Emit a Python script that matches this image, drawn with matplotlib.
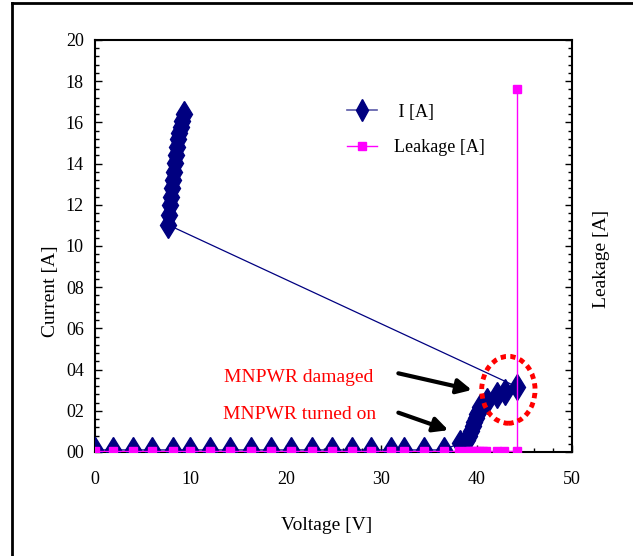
import matplotlib
matplotlib.use("Agg")
from matplotlib import pyplot as plt
from matplotlib.patches import Ellipse
from matplotlib.lines import Line2D
from matplotlib.ticker import MultipleLocator, FuncFormatter

# current I [A] vs voltage
i_v = [0, 1.9, 3.95, 5.95, 8.15, 10.0, 12.1, 14.2, 16.3, 18.4, 20.5, 22.7,
       24.8, 26.9, 28.9, 31.0, 32.4, 34.5, 36.6, 38.3,
       39.0, 39.2, 39.4, 39.6, 39.75, 39.9, 40.05, 40.2, 40.4,
       41.1, 42.1, 43.0, 44.2,
       7.69, 7.79, 7.86, 7.97, 8.11, 8.21, 8.32, 8.39, 8.49, 8.63,
       8.74, 8.84, 8.98, 9.12, 9.33]
i_a = [0.1] * 19 + [0.45,
       0.6, 0.8, 1.0, 1.25, 1.45, 1.65, 1.85, 2.0, 2.2,
       2.5, 2.77, 2.93, 3.17,
       11.02, 11.5, 11.99, 12.39, 12.8, 13.2, 13.61, 14.01, 14.42, 14.82,
       15.18, 15.5, 15.79, 16.08, 16.41]

# leakage [A] vs voltage
leak_v = [0, 1.9, 3.95, 5.95, 8.15, 10.0, 12.1, 14.2, 16.3, 18.4, 20.5, 22.7,
          24.8, 26.9, 28.9, 31.0, 32.4, 34.5, 36.6,
          38.2, 39.0, 39.3, 39.7, 40.0, 40.3, 40.7, 41.0, 42.1, 42.9, 44.2, 44.2]
leak_a = [0.05] * 30 + [17.6]

plt.rcParams['font.family'] = ['Liberation Serif', 'DejaVu Serif']

fig = plt.figure(figsize=(6.33, 5.56), dpi=100)
ax = fig.add_axes([95 / 633, 104 / 556, 477 / 633, 412 / 556])

ax.plot(i_v, i_a, color='#000080', lw=0.9, marker='d', markersize=13,
        markerfacecolor='#000080', markeredgecolor='#000080', zorder=3)
ax.plot(leak_v, leak_a, color='#FF00FF', lw=1.0, marker='s', markersize=6,
        markerfacecolor='#FF00FF', markeredgecolor='#FF00FF', zorder=4)

ax.set_xlim(0, 50)
ax.set_ylim(0, 20)
ax.xaxis.set_major_locator(MultipleLocator(10))
ax.xaxis.set_minor_locator(MultipleLocator(2))
ax.yaxis.set_major_locator(MultipleLocator(2))
ax.yaxis.set_minor_locator(MultipleLocator(0.4))
ax.yaxis.set_major_formatter(FuncFormatter(lambda v, p: '%02d' % round(v)))
ax.tick_params(which='both', direction='in', right=True, top=False,
               labelsize=13, width=1)
ax.tick_params(which='major', length=5)
ax.tick_params(which='minor', length=3)
ax.tick_params(axis='x', pad=14)
ax.tick_params(axis='y', pad=8)
for s in ax.spines.values():
    s.set_linewidth(1.5)

fig.text(50 / 633, 1 - 291 / 556, 'Current [A]', rotation=90,
         ha='center', va='center', fontsize=14)
fig.text(601 / 633, 1 - 259 / 556, 'Leakage [A]', rotation=90,
         ha='center', va='center', fontsize=14)
fig.text(327 / 633, 1 - 526 / 556, 'Voltage [V]',
         ha='center', va='center', fontsize=14)

# annotations
ax.text(21.4, 3.64, 'MNPWR damaged', color='red', fontsize=14,
        ha='center', va='center')
ax.text(21.4, 1.80, 'MNPWR turned on', color='red', fontsize=14,
        ha='center', va='center')
arrow = dict(arrowstyle='-|>', lw=3, mutation_scale=22, color='black',
             shrinkA=0, shrinkB=0)
ax.annotate('', xy=(39.5, 3.01), xytext=(31.8, 3.82), arrowprops=arrow)
ax.annotate('', xy=(37.04, 1.06), xytext=(31.8, 1.91), arrowprops=arrow)
ax.add_patch(Ellipse((43.33, 3.02), 5.59, 3.25, fill=False, edgecolor='red',
                     lw=3.5, linestyle=(0, (1.1, 0.9)), zorder=5))

handles = [Line2D([], [], color='#5a5aa8', lw=1.2, marker='d', markersize=11,
                  markerfacecolor='#000080', markeredgecolor='#000080'),
           Line2D([], [], color='#FF00FF', lw=1.0, marker='s', markersize=6,
                  markerfacecolor='#FF00FF', markeredgecolor='#FF00FF')]
ax.legend(handles, [' I [A]', 'Leakage [A]'], loc='center left',
          bbox_to_anchor=(0.528, 0.782), frameon=False, fontsize=13,
          handlelength=1.65, handletextpad=0.95, labelspacing=1.0,
          borderpad=0, borderaxespad=0)

# outer frame lines
fig.add_artist(Line2D([12 / 633, 12 / 633], [0, 1 - 3 / 556], color='black', lw=2))
fig.add_artist(Line2D([12 / 633, 1], [1 - 3 / 556, 1 - 3 / 556], color='black', lw=2))

fig.savefig('out.png', dpi=100)
